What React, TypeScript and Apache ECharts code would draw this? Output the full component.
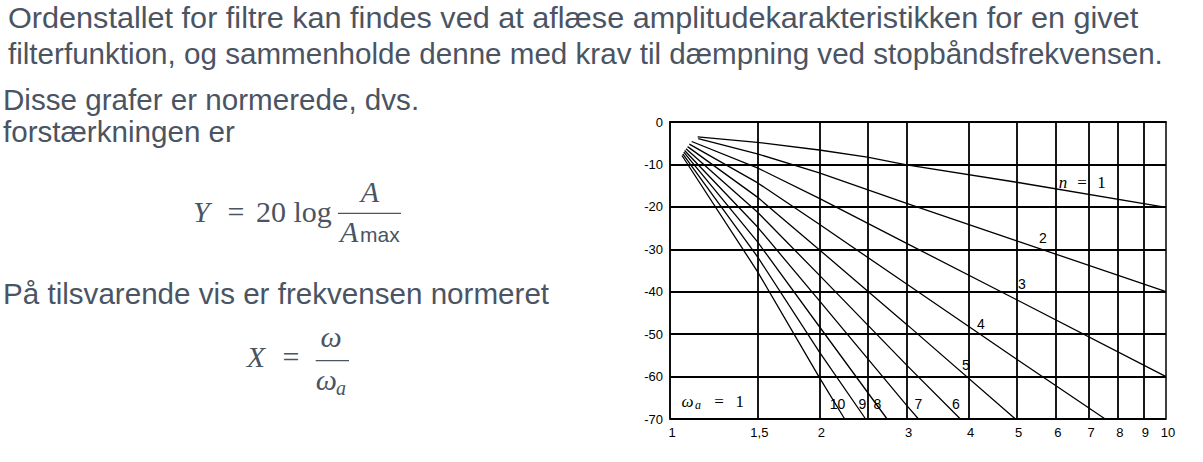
import React, { useEffect, useRef } from "react";
import * as echarts from "echarts";

// ---- data ----
const xLabelValues = [1, 1.5, 2, 3, 4, 5, 6, 7, 8, 9, 10];
const xGridValues = [1.5, 2, 2.5, 3, 4, 5, 6, 7, 8, 9];
const yMin = -70;
const yMax = 0;
const yStep = 10;

const orderNames = ["1", "2", "3", "4", "5", "6", "7", "8", "9", "10"];
const n1 = [[1.137, -3.5], [1.5, -4.8], [2, -6.6], [2.5, -8.3], [3, -10.1], [5, -14.2], [10, -20.1]];
const n2 = [[1.14, -3.9], [1.5, -7.5], [2, -12.0], [3, -19.2], [5, -28.0], [10, -40.0]];
const n3 = [[1.106, -4.6], [1.5, -10.8], [2, -18.0], [3, -28.6], [5, -41.9], [10, -60.0]];
const n4 = [[1.094, -5.2], [1.5, -14.3], [2, -24.1], [3, -38.2], [5, -55.9], [7.54, -70]];
const n5 = [[1.085, -5.8], [1.5, -17.7], [2, -30.1], [3, -47.7], [4.97, -70]];
const n6 = [[1.077, -6.3], [1.5, -21.2], [2, -36.1], [3, -57.3], [3.85, -70]];
const n7 = [[1.07, -6.7], [1.5, -24.7], [2, -42.1], [3, -66.8], [3.17, -70]];
const n8 = [[1.066, -7.1], [1.5, -28.2], [2, -48.2], [2.74, -70]];
const n9 = [[1.061, -7.5], [1.5, -31.7], [2, -54.2], [2.48, -70]];
const n10 = [[1.057, -7.9], [1.5, -35.2], [2, -60.2], [2.25, -70]];
const curves = [n1, n2, n3, n4, n5, n6, n7, n8, n9, n10];

const bodyLines = [
  "Ordenstallet for filtre kan findes ved at aflæse amplitudekarakteristikken for en givet",
  "filterfunktion, og sammenholde denne med krav til dæmpning ved stopbåndsfrekvensen.",
  "Disse grafer er normerede, dvs.",
  "forstærkningen er",
  "På tilsvarende vis er frekvensen normeret",
];

const SANS = "'Liberation Sans', Arial, Helvetica, sans-serif";
const SERIF = "'Liberation Serif', 'Times New Roman', serif";
const TXT = "#4a5463";

function txt(x: number, y: number, text: string, opts: any = {}) {
  return {
    type: "text",
    x,
    y,
    scaleX: opts.scaleX || 1,
    silent: true,
    z: 100,
    style: {
      text,
      fill: opts.fill || TXT,
      fontSize: opts.size || 29.6,
      fontFamily: opts.family || SANS,
      fontStyle: opts.italic ? "italic" : "normal",
      align: opts.align || "left",
      verticalAlign: "middle",
    },
  };
}

export default function App() {
  const ref = useRef<HTMLDivElement>(null);
  useEffect(() => {
    if (!ref.current) return;
    const chart = echarts.init(ref.current, undefined, { renderer: "svg" });

    const series: any[] = curves.map((d, i) => ({
      name: "n = " + orderNames[i],
      type: "line",
      data: d,
      symbol: "none",
      showSymbol: false,
      lineStyle: { color: "#000", width: 1.3 },
      z: 3,
      silent: true,
    }));
    series[0].markLine = {
      silent: true,
      symbol: ["none", "none"],
      label: { show: false },
      lineStyle: { color: "#000", width: 1.8, type: "solid" },
      data: xGridValues.map((v) => ({ xAxis: v })),
      z: 2,
    };

    const graphic: any[] = [
      txt(8, 18.1, bodyLines[0], { scaleX: 1.035 }),
      txt(8, 53.1, bodyLines[1]),
      txt(3, 99.1, bodyLines[2]),
      txt(3, 131.1, bodyLines[3]),
      txt(3, 293.1, bodyLines[4]),
      // Y = 20 log A / A_max
      txt(193, 211.6, "Y", { family: SERIF, italic: true, size: 30 }),
      txt(236, 211.6, "=", { family: SERIF, size: 30, align: "center" }),
      txt(256, 211.6, "20 log", { family: SERIF, size: 30 }),
      { type: "line", silent: true, z: 100, shape: { x1: 338, y1: 213.3, x2: 401, y2: 213.3 }, style: { stroke: TXT, lineWidth: 1.3 } },
      txt(370, 191.6, "A", { family: SERIF, italic: true, size: 30, align: "center" }),
      txt(340, 231.6, "A", { family: SERIF, italic: true, size: 30 }),
      txt(360, 234.4, "max", { size: 21 }),
      // X = ω / ω_a
      txt(246.7, 356.6, "X", { family: SERIF, italic: true, size: 30 }),
      txt(291, 356.6, "=", { family: SERIF, size: 30, align: "center" }),
      { type: "line", silent: true, z: 100, shape: { x1: 315.7, y1: 360.7, x2: 349, y2: 360.7 }, style: { stroke: TXT, lineWidth: 1.3 } },
      txt(331, 336.6, "ω", { family: SERIF, italic: true, size: 30, align: "center" }),
      txt(315.7, 379.9, "ω", { family: SERIF, italic: true, size: 30 }),
      txt(336, 388.3, "a", { family: SERIF, italic: true, size: 20 }),
      // chart annotations
      txt(1063, 182, "n", { family: SERIF, italic: true, size: 17, align: "center", fill: "#000" }),
      txt(1082, 182, "=", { family: SERIF, size: 17, align: "center", fill: "#000" }),
      txt(1101.5, 182, "1", { family: SERIF, size: 17, align: "center", fill: "#000" }),
      txt(1043, 238, "2", { size: 14, align: "center", fill: "#000" }),
      txt(1022, 284, "3", { size: 14, align: "center", fill: "#000" }),
      txt(981, 324, "4", { size: 14, align: "center", fill: "#000" }),
      txt(966, 365, "5", { size: 14, align: "center", fill: "#000" }),
      txt(956, 404, "6", { size: 14, align: "center", fill: "#000" }),
      txt(918.5, 404, "7", { size: 14, align: "center", fill: "#000" }),
      txt(877.5, 404, "8", { size: 14, align: "center", fill: "#000" }),
      txt(862.5, 404, "9", { size: 14, align: "center", fill: "#000" }),
      txt(837.5, 404, "10", { size: 14, align: "center", fill: "#000" }),
      txt(687.5, 401, "ω", { family: SERIF, italic: true, size: 17, align: "center", fill: "#000" }),
      txt(698, 405, "a", { family: SERIF, italic: true, size: 12, align: "center", fill: "#000" }),
      txt(719, 401, "=", { family: SERIF, size: 17, align: "center", fill: "#000" }),
      txt(739.7, 401, "1", { family: SERIF, size: 17, align: "center", fill: "#000" }),
    ];

    chart.setOption({
      animation: false,
      backgroundColor: "#fff",
      grid: {
        left: 670,
        right: 37,
        top: 122,
        bottom: 43,
        show: true,
        borderColor: "#000",
        borderWidth: 1.5,
        containLabel: false,
      },
      xAxis: {
        type: "log",
        logBase: 10,
        min: 1,
        max: 10,
        axisLine: { show: true, lineStyle: { color: "#000", width: 1.5 } },
        axisTick: { show: false },
        splitLine: { show: false },
        minorSplitLine: { show: false },
        axisLabel: {
          customValues: xLabelValues,
          formatter: (v: number) => String(v).replace(".", ","),
          color: "#000",
          fontSize: 13,
          fontFamily: SANS,
          margin: 7,
          padding: [0, 0, 0, 4],
        },
      },
      yAxis: {
        type: "value",
        min: yMin,
        max: yMax,
        interval: yStep,
        axisLine: { show: true, lineStyle: { color: "#000", width: 1.5 } },
        axisTick: { show: false },
        splitLine: { show: true, lineStyle: { color: "#000", width: 1.8 } },
        axisLabel: { color: "#000", fontSize: 13, fontFamily: SANS, margin: 7 },
      },
      series,
      graphic,
    });
    return () => chart.dispose();
  }, []);
  return (
    <div
      ref={ref}
      style={{ position: "fixed", left: 0, top: 0, width: 1203, height: 462, background: "#fff" }}
    />
  );
}
